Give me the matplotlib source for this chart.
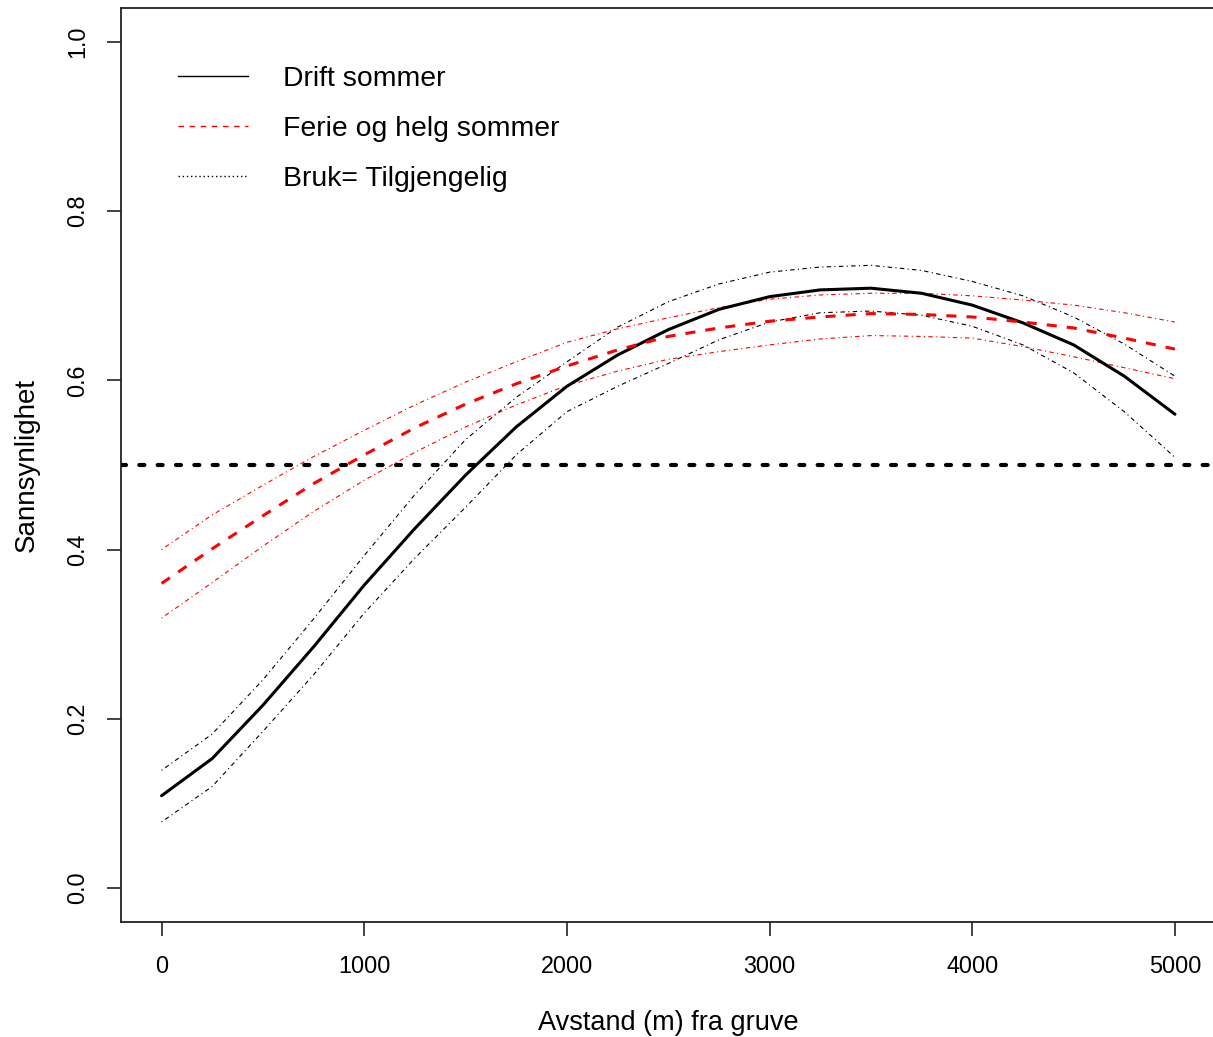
import matplotlib
matplotlib.use("Agg")
import matplotlib.pyplot as plt
from matplotlib.lines import Line2D

plt.rcParams['font.family'] = ['Liberation Sans', 'DejaVu Sans']

# Distance from mine (m)
distance = [0, 250, 500, 750, 1000, 1250, 1500, 1750, 2000, 2250, 2500,
            2750, 3000, 3250, 3500, 3750, 4000, 4250, 4500, 4750, 5000]

# Drift sommer (fit and confidence bounds)
drift_fit = [0.109, 0.153, 0.216, 0.285, 0.358, 0.425, 0.488, 0.545, 0.593, 0.630, 0.660,
             0.684, 0.699, 0.707, 0.709, 0.703, 0.689, 0.668, 0.642, 0.605, 0.560]
drift_upper = [0.139, 0.182, 0.246, 0.318, 0.393, 0.465, 0.530, 0.580, 0.622, 0.663, 0.693,
               0.714, 0.728, 0.734, 0.736, 0.730, 0.717, 0.700, 0.675, 0.643, 0.605]
drift_lower = [0.078, 0.120, 0.185, 0.252, 0.325, 0.390, 0.450, 0.512, 0.563, 0.593, 0.620,
               0.648, 0.669, 0.680, 0.682, 0.677, 0.664, 0.642, 0.609, 0.563, 0.509]

# Ferie og helg sommer (fit and confidence bounds)
ferie_fit = [0.360, 0.401, 0.440, 0.478, 0.512, 0.544, 0.572, 0.596, 0.617, 0.636, 0.652,
             0.662, 0.670, 0.675, 0.679, 0.678, 0.675, 0.669, 0.662, 0.650, 0.637]
ferie_upper = [0.400, 0.441, 0.476, 0.510, 0.541, 0.571, 0.598, 0.622, 0.645, 0.661, 0.674,
               0.686, 0.696, 0.701, 0.703, 0.703, 0.700, 0.695, 0.689, 0.680, 0.669]
ferie_lower = [0.319, 0.361, 0.404, 0.445, 0.482, 0.515, 0.545, 0.571, 0.594, 0.611, 0.625,
               0.634, 0.642, 0.649, 0.653, 0.652, 0.650, 0.640, 0.628, 0.615, 0.602]

availability = 0.5

x_ticks = [0, 1000, 2000, 3000, 4000, 5000]
y_ticks = [0.0, 0.2, 0.4, 0.6, 0.8, 1.0]
y_tick_labels = ["0.0", "0.2", "0.4", "0.6", "0.8", "1.0"]
legend_labels = ["Drift sommer", "Ferie og helg sommer", "Bruk= Tilgjengelig"]

W, H = 1213, 1037
fig = plt.figure(figsize=(W / 100, H / 100), dpi=100)
left_px, right_px, top_px, bottom_px = 121, 1215.5, 8.2, 921.8
ax = fig.add_axes([left_px / W, 1 - bottom_px / H,
                   (right_px - left_px) / W, (bottom_px - top_px) / H])

dotdash = (0, (1, 3, 4, 3))
ax.plot(distance, drift_upper, color='black', lw=0.8, ls=dotdash)
ax.plot(distance, drift_lower, color='black', lw=0.8, ls=dotdash)
ax.plot(distance, ferie_upper, color='red', lw=0.8, ls=dotdash)
ax.plot(distance, ferie_lower, color='red', lw=0.8, ls=dotdash)
ax.plot(distance, drift_fit, color='black', lw=2.2, solid_capstyle='round')
ax.plot(distance, ferie_fit, color='red', lw=2.2, ls=(0, (3.3, 3.3)))
ax.axhline(availability, color='black', lw=3.0, ls=(0, (1.2, 3.2)),
           dash_capstyle='round')

ax.set_xlim(-200, 5200)
ax.set_ylim(-0.04, 1.04)
ax.set_xticks(x_ticks)
ax.set_xticklabels([str(t) for t in x_ticks])
ax.set_yticks(y_ticks)
ax.set_yticklabels(y_tick_labels)

for s in ax.spines.values():
    s.set_linewidth(1.3)
    s.set_color('#222222')

ax.tick_params(axis='both', direction='out', length=10, width=1.2, color='#222222',
               labelsize=16.8, labelcolor='black')
ax.tick_params(axis='x', pad=14)
ax.tick_params(axis='y', pad=13, labelrotation=90)
for lab in ax.get_yticklabels():
    lab.set_va('center')

ax.set_xlabel("Avstand (m) fra gruve", fontsize=19.5)
ax.xaxis.set_label_coords(0.5, -0.096)
ax.set_ylabel("Sannsynlighet", fontsize=20)
ax.yaxis.set_label_coords(-0.074, 0.5)

handles = [Line2D([], [], color='black', lw=1.0),
           Line2D([], [], color='red', lw=1.0, ls=(0, (4, 4))),
           Line2D([], [], color='black', lw=1.0, ls=(0, (1, 2)))]
leg = ax.legend(handles, legend_labels, loc='upper left',
                bbox_to_anchor=((178 - left_px) / (right_px - left_px),
                                1 - (66 - top_px) / (bottom_px - top_px)),
                frameon=False, fontsize=20.4, handlelength=2.48, handletextpad=1.24,
                labelspacing=0.84, borderpad=0, borderaxespad=0)

fig.savefig("out.png", dpi=100)
